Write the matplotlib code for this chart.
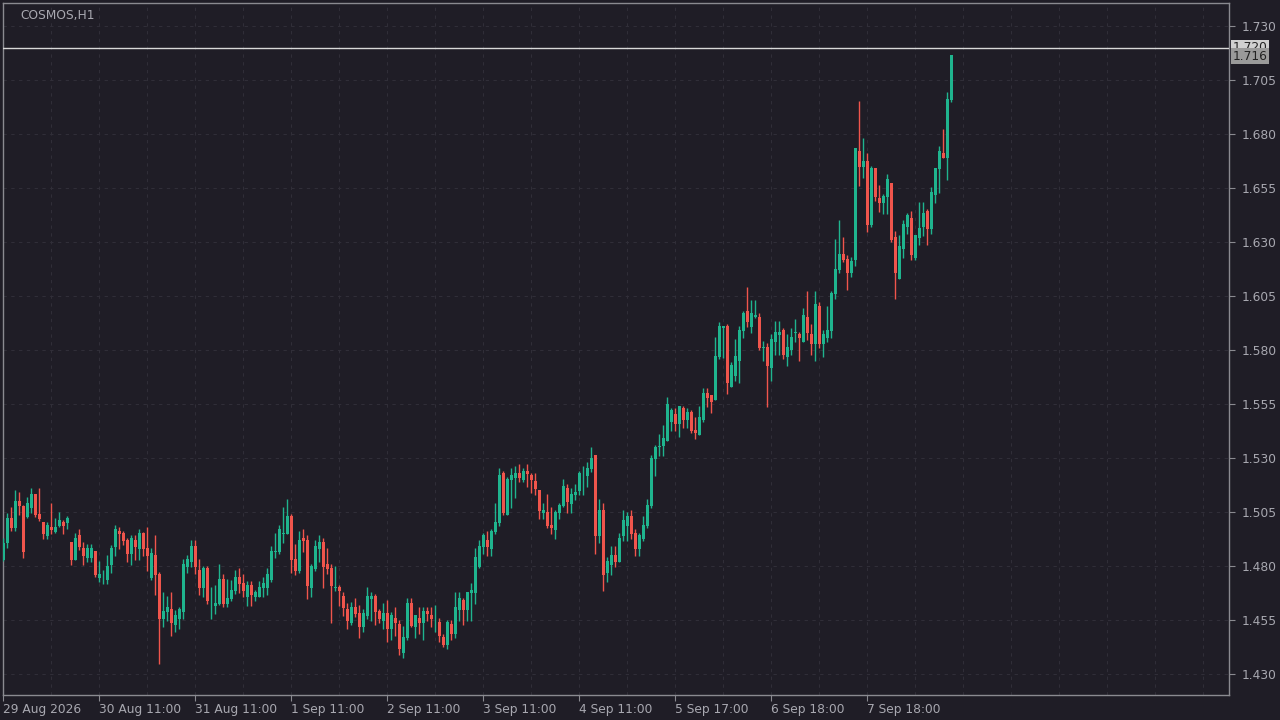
import matplotlib
matplotlib.use("Agg")
import matplotlib.pyplot as plt
import numpy as np

title = "COSMOS,H1"
date_labels = ["29 Aug 2026", "30 Aug 11:00", "31 Aug 11:00", "1 Sep 11:00", "2 Sep 11:00",
               "3 Sep 11:00", "4 Sep 11:00", "5 Sep 17:00", "6 Sep 18:00", "7 Sep 18:00"]
price_ticks = [1.430, 1.455, 1.480, 1.505, 1.530, 1.555, 1.580, 1.605, 1.630, 1.655, 1.680, 1.705, 1.730]
hline_price = 1.720
last_price = 1.716

# rows: open, high, low, close
ohlc = [
(1.4828,1.4930,1.4825,1.4905),(1.4905,1.5044,1.4882,1.5024),(1.5024,1.5075,1.4960,1.4977),(1.4977,1.5152,1.4960,1.5100),
(1.5100,1.5144,1.5036,1.5078),(1.5078,1.5082,1.4838,1.4866),(1.5025,1.5120,1.5020,1.5092),(1.5070,1.5160,1.5047,1.5133),
(1.5133,1.5133,1.5028,1.5036),(1.5040,1.5160,1.5010,1.5017),(1.5003,1.5003,1.4926,1.4950),(1.4940,1.5003,1.4926,1.4990),
(1.4982,1.5092,1.4950,1.4967),(1.4958,1.5024,1.4951,1.4980),(1.4985,1.5050,1.4980,1.5013),(1.5005,1.5012,1.4950,1.4987),
(1.5000,1.5031,1.4970,1.5022),(1.4911,1.4911,1.4805,1.4828),(1.4828,1.4954,1.4828,1.4929),(1.4943,1.4970,1.4874,1.4889),
(1.4883,1.4911,1.4805,1.4846),(1.4837,1.4902,1.4818,1.4883),(1.4837,1.4902,1.4818,1.4883),(1.4869,1.4869,1.4747,1.4758),
(1.4744,1.4823,1.4724,1.4763),(1.4747,1.4781,1.4717,1.4750),(1.4735,1.4851,1.4717,1.4800),(1.4805,1.4897,1.4767,1.4883),
(1.4888,1.4990,1.4846,1.4971),(1.4962,1.4980,1.4880,1.4948),(1.4952,1.4962,1.4897,1.4916),(1.4920,1.4930,1.4818,1.4855),
(1.4855,1.4943,1.4805,1.4930),(1.4920,1.4943,1.4828,1.4888),(1.4878,1.4971,1.4828,1.4953),(1.4953,1.4957,1.4846,1.4878),
(1.4883,1.4980,1.4777,1.4846),(1.4745,1.4883,1.4735,1.4860),(1.4851,1.4943,1.4666,1.4758),(1.4763,1.4772,1.4348,1.4555),
(1.4555,1.4680,1.4518,1.4592),(1.4587,1.4661,1.4545,1.4610),(1.4601,1.4680,1.4476,1.4536),(1.4527,1.4596,1.4494,1.4573),
(1.4555,1.4610,1.4508,1.4601),(1.4587,1.4832,1.4555,1.4809),(1.4795,1.4851,1.4767,1.4832),(1.4818,1.4920,1.4795,1.4892),
(1.4892,1.4920,1.4763,1.4795),(1.4781,1.4832,1.4666,1.4698),(1.4698,1.4800,1.4656,1.4791),(1.4791,1.4800,1.4624,1.4638),
(1.4627,1.4703,1.4555,1.4629),(1.4615,1.4712,1.4578,1.4629),(1.4624,1.4809,1.4619,1.4740),(1.4740,1.4763,1.4610,1.4624),
(1.4624,1.4740,1.4610,1.4652),(1.4647,1.4735,1.4638,1.4689),(1.4684,1.4781,1.4670,1.4749),(1.4749,1.4791,1.4675,1.4717),
(1.4721,1.4763,1.4656,1.4684),(1.4656,1.4730,1.4615,1.4712),(1.4712,1.4730,1.4615,1.4666),(1.4656,1.4689,1.4638,1.4680),
(1.4656,1.4730,1.4656,1.4703),(1.4698,1.4749,1.4656,1.4721),(1.4698,1.4791,1.4666,1.4763),(1.4735,1.4892,1.4726,1.4869),
(1.4865,1.4953,1.4837,1.4869),(1.4865,1.4990,1.4855,1.4971),(1.4948,1.5073,1.4906,1.4953),(1.4948,1.5110,1.4948,1.5031),
(1.5031,1.5041,1.4767,1.4828),(1.4832,1.4902,1.4758,1.4777),(1.4777,1.4962,1.4767,1.4920),(1.4930,1.4971,1.4865,1.4916),
(1.4920,1.4943,1.4647,1.4707),(1.4700,1.4809,1.4656,1.4800),(1.4786,1.4920,1.4777,1.4892),(1.4878,1.4943,1.4818,1.4911),
(1.4911,1.4930,1.4698,1.4795),(1.4809,1.4883,1.4763,1.4786),(1.4791,1.4809,1.4536,1.4707),(1.4698,1.4800,1.4684,1.4703),
(1.4703,1.4712,1.4615,1.4684),(1.4661,1.4680,1.4568,1.4606),(1.4601,1.4629,1.4508,1.4545),(1.4536,1.4633,1.4527,1.4610),
(1.4610,1.4652,1.4564,1.4578),(1.4582,1.4619,1.4467,1.4518),(1.4518,1.4601,1.4494,1.4582),(1.4568,1.4703,1.4555,1.4661),
(1.4647,1.4680,1.4545,1.4661),(1.4661,1.4670,1.4527,1.4587),(1.4592,1.4601,1.4536,1.4555),(1.4545,1.4629,1.4508,1.4582),
(1.4582,1.4642,1.4448,1.4508),(1.4508,1.4587,1.4457,1.4573),(1.4559,1.4610,1.4476,1.4536),(1.4531,1.4550,1.4388,1.4416),
(1.4397,1.4522,1.4374,1.4471),(1.4467,1.4652,1.4457,1.4629),(1.4629,1.4652,1.4518,1.4522),(1.4518,1.4573,1.4467,1.4573),
(1.4559,1.4610,1.4485,1.4536),(1.4536,1.4610,1.4457,1.4592),(1.4592,1.4610,1.4545,1.4578),(1.4573,1.4610,1.4518,1.4555),
(1.4548,1.4619,1.4494,1.4551),(1.4541,1.4559,1.4448,1.4476),(1.4471,1.4485,1.4425,1.4434),(1.4434,1.4550,1.4416,1.4541),
(1.4531,1.4550,1.4457,1.4485),(1.4485,1.4680,1.4467,1.4610),(1.4596,1.4680,1.4545,1.4652),(1.4642,1.4652,1.4527,1.4596),
(1.4596,1.4680,1.4545,1.4680),(1.4675,1.4721,1.4545,1.4689),(1.4675,1.4883,1.4624,1.4842),(1.4797,1.4920,1.4790,1.4892),
(1.4888,1.4952,1.4855,1.4943),(1.4920,1.4962,1.4846,1.4888),(1.4878,1.4971,1.4846,1.4962),(1.4957,1.5091,1.4948,1.5003),
(1.4999,1.5253,1.4985,1.5221),(1.5230,1.5240,1.5036,1.5045),(1.5036,1.5212,1.5036,1.5202),(1.5198,1.5253,1.5068,1.5221),
(1.5207,1.5263,1.5114,1.5230),(1.5230,1.5272,1.5188,1.5207),(1.5198,1.5253,1.5188,1.5240),(1.5240,1.5272,1.5165,1.5226),
(1.5221,1.5230,1.5138,1.5198),(1.5193,1.5230,1.5128,1.5156),(1.5151,1.5151,1.5017,1.5054),(1.5045,1.5091,1.5017,1.5059),
(1.5050,1.5133,1.4976,1.4985),(1.4990,1.5073,1.4948,1.4976),(1.4966,1.5059,1.4925,1.5050),(1.5045,1.5091,1.5017,1.5082),
(1.5077,1.5202,1.5073,1.5170),(1.5161,1.5179,1.5045,1.5096),(1.5087,1.5161,1.5045,1.5133),(1.5128,1.5179,1.5105,1.5142),
(1.5147,1.5240,1.5128,1.5230),(1.5224,1.5263,1.5128,1.5226),(1.5216,1.5281,1.5165,1.5253),(1.5249,1.5351,1.5235,1.5300),
(1.5313,1.5313,1.4855,1.4938),(1.4938,1.5110,1.4906,1.5059),(1.5059,1.5091,1.4684,1.4758),(1.4767,1.4841,1.4726,1.4823),
(1.4805,1.4892,1.4758,1.4851),(1.4851,1.4892,1.4795,1.4818),(1.4818,1.4952,1.4818,1.4929),(1.4938,1.5059,1.4915,1.5012),
(1.4985,1.5050,1.4915,1.5031),(1.5031,1.5059,1.4925,1.4948),(1.4952,1.4971,1.4846,1.4878),(1.4878,1.4952,1.4846,1.4943),
(1.4925,1.5031,1.4915,1.4990),(1.4985,1.5110,1.4976,1.5082),(1.5077,1.5313,1.5068,1.5300),(1.5295,1.5360,1.5216,1.5351),
(1.5353,1.5411,1.5309,1.5357),(1.5355,1.5452,1.5309,1.5392),(1.5378,1.5582,1.5378,1.5550),(1.5466,1.5531,1.5425,1.5522),
(1.5503,1.5531,1.5425,1.5457),(1.5457,1.5540,1.5397,1.5540),(1.5531,1.5540,1.5438,1.5475),(1.5475,1.5531,1.5438,1.5512),
(1.5512,1.5522,1.5415,1.5425),(1.5429,1.5489,1.5387,1.5415),(1.5406,1.5540,1.5406,1.5489),(1.5475,1.5624,1.5466,1.5600),
(1.5600,1.5624,1.5536,1.5577),(1.5591,1.5591,1.5508,1.5559),(1.5568,1.5860,1.5568,1.5772),(1.5767,1.5930,1.5760,1.5911),
(1.5900,1.5911,1.5762,1.5911),(1.5911,1.5920,1.5598,1.5649),(1.5630,1.5744,1.5630,1.5731),(1.5681,1.5851,1.5658,1.5772),
(1.5751,1.5911,1.5649,1.5893),(1.5889,1.5980,1.5857,1.5971),(1.5980,1.6092,1.5906,1.5929),(1.5908,1.6031,1.5879,1.5971),
(1.5954,1.6031,1.5948,1.5962),(1.5953,1.5971,1.5801,1.5811),(1.5811,1.5842,1.5751,1.5815),(1.5815,1.5832,1.5538,1.5727),
(1.5718,1.5874,1.5658,1.5851),(1.5838,1.5934,1.5778,1.5883),(1.5871,1.5934,1.5778,1.5883),(1.5893,1.5902,1.5760,1.5777),
(1.5769,1.5874,1.5727,1.5814),(1.5801,1.5902,1.5778,1.5860),(1.5879,1.5944,1.5838,1.5883),(1.5874,1.5883,1.5751,1.5857),
(1.5838,1.5994,1.5838,1.5962),(1.5953,1.6073,1.5846,1.5879),(1.5874,1.5920,1.5778,1.5829),(1.5829,1.6073,1.5751,1.6013),
(1.6004,1.6022,1.5810,1.5829),(1.5829,1.5893,1.5769,1.5874),(1.5857,1.6004,1.5838,1.5893),(1.5889,1.6073,1.5857,1.6064),
(1.6060,1.6314,1.6036,1.6175),(1.6170,1.6402,1.6156,1.6244),(1.6244,1.6323,1.6207,1.6217),(1.6221,1.6242,1.6078,1.6156),
(1.6156,1.6231,1.6138,1.6212),(1.6217,1.6735,1.6189,1.6735),(1.6721,1.6953,1.6559,1.6647),(1.6647,1.6781,1.6596,1.6675),
(1.6675,1.6712,1.6346,1.6379),(1.6379,1.6652,1.6369,1.6643),(1.6643,1.6643,1.6490,1.6508),(1.6504,1.6564,1.6439,1.6480),
(1.6480,1.6522,1.6430,1.6513),(1.6508,1.6615,1.6430,1.6592),(1.6573,1.6573,1.6300,1.6309),(1.6323,1.6351,1.6036,1.6156),
(1.6129,1.6332,1.6129,1.6281),(1.6267,1.6402,1.6226,1.6383),(1.6369,1.6434,1.6337,1.6425),(1.6411,1.6443,1.6217,1.6240),
(1.6226,1.6332,1.6217,1.6332),(1.6318,1.6485,1.6286,1.6365),(1.6369,1.6485,1.6328,1.6434),(1.6443,1.6453,1.6286,1.6360),
(1.6360,1.6555,1.6337,1.6531),(1.6517,1.6643,1.6481,1.6643),(1.6638,1.6744,1.6527,1.6721),(1.6712,1.6823,1.6689,1.6689),
(1.6689,1.6994,1.6587,1.6962),(1.6957,1.7166,1.6948,1.7166),
]
opens = [r[0] for r in ohlc]
highs = [r[1] for r in ohlc]
lows = [r[2] for r in ohlc]
closes = [r[3] for r in ohlc]

bg = "#1f1d26"
green = "#1fb48e"
red = "#f0554c"
txt = "#a8a8b0"
gridc = "#302e38"

fig = plt.figure(figsize=(12.8, 7.2), dpi=100, facecolor=bg)
ax = fig.add_axes([3/1280, 25/720, 1226/1280, 692/720], facecolor=bg)

n = len(closes)
x = np.arange(1, n + 1)
o = np.array(opens); c = np.array(closes)
cols = [green if ci >= oi else red for oi, ci in zip(o, c)]
ax.vlines(x, lows, highs, colors=cols, linewidth=1, zorder=3)
bottoms = np.minimum(o, c)
heights = np.maximum(np.abs(c - o), 0.0003)
ax.bar(x, heights, bottom=bottoms, width=0.75, color=cols, linewidth=0, zorder=4)

ax.set_xlim(0.92, 0.92 + 1226/4)
ax.set_ylim(1.430 - 21/2160, 1.430 + 671/2160)

ax.set_yticks(price_ticks)
ax.yaxis.tick_right()
ax.set_yticklabels([f"{p:.3f}" for p in price_ticks])
ax.tick_params(axis="y", colors="#8a8a90", labelsize=8.8, length=4, pad=5, labelcolor=txt)
label_pos = [1 + 24*i for i in range(len(date_labels))]
ax.set_xticks(label_pos)
ax.set_xticklabels(date_labels, ha="left")
ax.tick_params(axis="x", colors="#8a8a90", labelsize=8.8, length=4, pad=2, labelcolor=txt)

for gx in range(13, n + 80, 12):
    ax.axvline(gx, color=gridc, linestyle=(0, (3, 4)), linewidth=0.8, zorder=1)
for p in price_ticks:
    ax.axhline(p, color=gridc, linestyle=(0, (3, 4)), linewidth=0.8, zorder=1)

for s in ax.spines.values():
    s.set_color("#8a8a90")
    s.set_linewidth(1)

ax.axhline(hline_price, color="#d8d8d8", linewidth=1, zorder=5)
ax.text(1.003, hline_price, f"{hline_price:.3f}", transform=ax.get_yaxis_transform(), va="center",
        ha="left", fontsize=8.8, color="#222222", bbox=dict(boxstyle="square,pad=0.12", fc="#d0d0d0", ec="none"), clip_on=False)
ax.text(1.003, last_price, f"{last_price:.3f}", transform=ax.get_yaxis_transform(), va="center",
        ha="left", fontsize=8.8, color="#222222", bbox=dict(boxstyle="square,pad=0.12", fc="#9a9a9a", ec="none"), clip_on=False)

ax.text(0.014, 0.992, title, transform=ax.transAxes, va="top", ha="left", fontsize=8.8, color=txt)

fig.savefig("out.png", dpi=100, facecolor=bg)
